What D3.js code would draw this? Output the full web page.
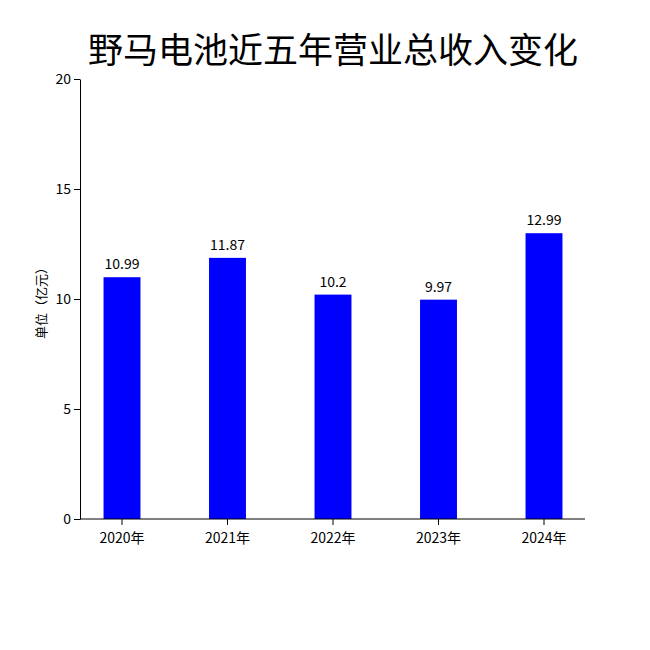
<!DOCTYPE html>
<html><head><meta charset="utf-8">
<script src="https://cdn.jsdelivr.net/npm/d3@7"></script>
<style>body{margin:0;background:#fff;font-family:"Noto Sans CJK SC","DejaVu Sans",sans-serif;}</style>
</head><body><div id="chart"></div>
<script>
var years = ["2020年", "2021年", "2022年", "2023年", "2024年"];
var revenue = [10.99, 11.87, 10.2, 9.97, 12.99];
var yTicks = [0, 5, 10, 15, 20];

var width = 650, height = 650;
var svg = d3.select("#chart").append("svg").attr("width", width).attr("height", height);

var x = d3.scaleBand().domain(years).range([69.25, 596.75]).paddingInner(0.65).paddingOuter(0.325);
var y = d3.scaleLinear().domain([0, 20]).range([519, 79]);

// titre
svg.append("text").attr("x", 333).attr("y", 63).attr("text-anchor", "middle")
    .style("font-size", "35px").text("野马电池近五年营业总收入变化");

// barres
svg.selectAll("rect.bar").data(revenue).enter().append("rect")
    .attr("x", function(d, i) { return x(years[i]); })
    .attr("y", function(d) { return y(d); })
    .attr("width", x.bandwidth())
    .attr("height", function(d) { return y(0) - y(d); })
    .attr("fill", "#0000ff");

svg.selectAll("text.val").data(revenue).enter().append("text")
    .attr("x", function(d, i) { return x(years[i]) + x.bandwidth() / 2; })
    .attr("y", function(d) { return y(d) - 8; })
    .attr("text-anchor", "middle").style("font-size", "14px")
    .text(function(d) { return d; });

// axes
var yAxis = svg.append("g").attr("transform", "translate(80,0)")
    .call(d3.axisLeft(y).tickValues(yTicks).tickSizeOuter(0));
var xAxis = svg.append("g").attr("transform", "translate(0,519)")
    .call(d3.axisBottom(x).tickSizeOuter(0));
xAxis.select(".domain").attr("d", "M80,0H585");
xAxis.selectAll("text").attr("dy", "1.1em");
svg.selectAll(".domain, .tick line").attr("stroke", "#000");
svg.selectAll(".tick text").style("font-size", "14px")
    .style("font-family", "'Noto Sans CJK SC', sans-serif").attr("fill", "#000");

svg.append("text").attr("transform", "translate(46,300) rotate(-90)")
    .attr("text-anchor", "middle").style("font-size", "13px").text("单位（亿元）");
</script></body></html>
